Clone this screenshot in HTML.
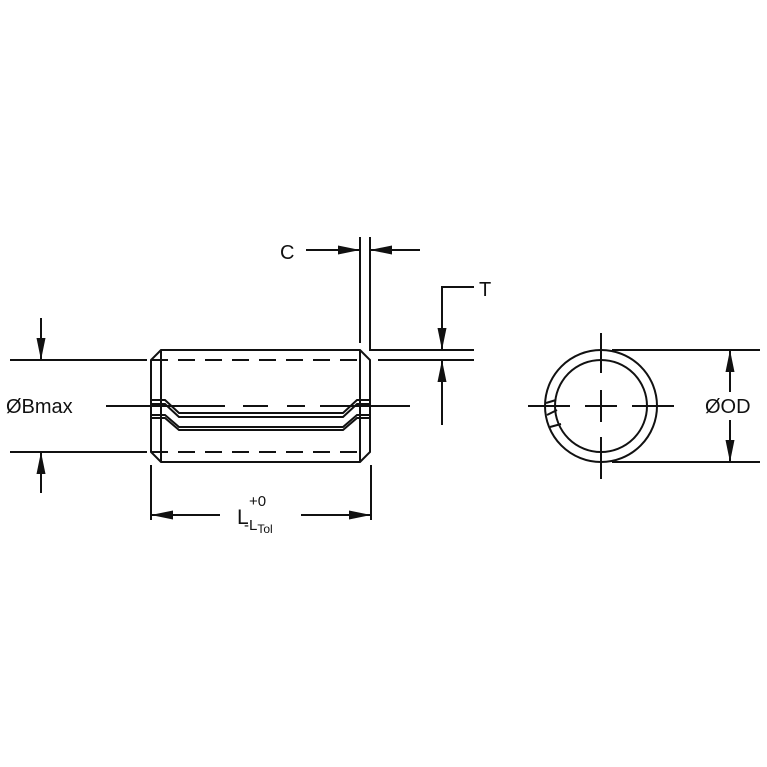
<!DOCTYPE html>
<html><head><style>body{margin:0;background:#fff}svg{display:block}text{font-family:"Liberation Sans",sans-serif;fill:#111}</style></head><body>
<svg width="767" height="767" viewBox="0 0 767 767" xmlns="http://www.w3.org/2000/svg">
<defs><marker id="a" markerWidth="22" markerHeight="10" refX="21" refY="5" orient="auto" markerUnits="userSpaceOnUse"><path d="M0,0.5L22,5L0,9.5z" fill="#111"/></marker></defs>
<g stroke="#111" stroke-width="2" fill="none">
<path d="M161,350H360L370,360V452L360,462H161L151,452V360Z"/>
<line x1="161" y1="350" x2="161" y2="462"/>
<line x1="360" y1="350" x2="360" y2="462"/>
<line x1="10" y1="360" x2="147" y2="360"/>
<line x1="10" y1="452" x2="147" y2="452"/>
<line x1="151" y1="360" x2="361" y2="360" stroke-dasharray="17,10"/>
<line x1="151" y1="452" x2="361" y2="452" stroke-dasharray="17,10"/>
<line x1="378" y1="360" x2="474" y2="360"/>
<path d="M151,400H165L179,413H343L357,400H370"/>
<path d="M151,404H165L179,417H343L357,404H370"/>
<path d="M151,415H165L179,427H343L357,415H370"/>
<path d="M151,418H165L179,430H343L357,418H370"/>
<path d="M106,406H225M243,406H268M287,406H305M320,406H410"/>
<line x1="360" y1="237" x2="360" y2="343"/>
<path d="M370,237V350H474"/>
<line x1="306" y1="250" x2="359" y2="250" marker-end="url(#a)"/>
<line x1="420" y1="250" x2="371" y2="250" marker-end="url(#a)"/>
<path d="M474,287H442V349" marker-end="url(#a)"/>
<line x1="442" y1="425" x2="442" y2="361" marker-end="url(#a)"/>
<line x1="41" y1="318" x2="41" y2="359" marker-end="url(#a)"/>
<line x1="41" y1="493" x2="41" y2="453" marker-end="url(#a)"/>
<line x1="151" y1="465" x2="151" y2="520"/>
<line x1="371" y1="465" x2="371" y2="520"/>
<line x1="220" y1="515" x2="152" y2="515" marker-end="url(#a)"/>
<line x1="301" y1="515" x2="370" y2="515" marker-end="url(#a)"/>
<circle cx="601" cy="406" r="56"/>
<circle cx="601" cy="406" r="46"/>
<path d="M528,406H570M585,406H617M632,406H674"/>
<path d="M601,333V373M601,390V422M601,437V479"/>
<path d="M546,403L556,400M547,415L557,410M550,427L561,424"/>
<line x1="612" y1="350" x2="760" y2="350"/>
<line x1="612" y1="462" x2="760" y2="462"/>
<line x1="730" y1="392" x2="730" y2="351" marker-end="url(#a)"/>
<line x1="730" y1="420" x2="730" y2="461" marker-end="url(#a)"/>
</g>
<text x="280" y="259" font-size="20">C</text>
<text x="479" y="296" font-size="20">T</text>
<text x="6" y="413" font-size="20">ØBmax</text>
<text x="705" y="413" font-size="20">ØOD</text>
<text x="237" y="524" font-size="21">L</text>
<text x="249" y="506" font-size="15">+0</text>
<text x="244" y="530" font-size="15">-L<tspan font-size="12" dy="3">Tol</tspan></text>
</svg>
</body></html>
